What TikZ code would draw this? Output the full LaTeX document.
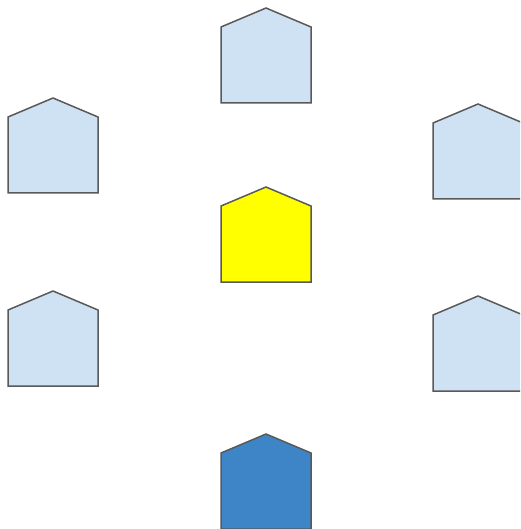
\documentclass[tikz,border=0pt]{standalone}
\usepackage{xcolor}
\usepackage{tikz}
\definecolor{edgegray}{HTML}{595959}
\definecolor{paleblue}{HTML}{CFE2F3}
\definecolor{brightyellow}{HTML}{FFFF00}
\definecolor{deepblue}{HTML}{3D85C6}

\begin{document}
\begin{tikzpicture}[
    x=1pt, y=-1pt,
    house/.pic={
      \draw[draw=edgegray, line width=1.5pt, line join=miter, fill=#1]
        (-45,95) -- (-45,19) -- (0,0) -- (45,19) -- (45,95) -- cycle;
    },
  ]
  \useasboundingbox (0,0) rectangle (520,529);
  \clip (0,0) rectangle (520,529);
  % middle column
  \pic (top) at (266,8) {house=paleblue};
  \pic (centre) at (266,187) {house=brightyellow};
  \pic (bottom) at (266,434) {house=deepblue};
  % left column
  \pic (leftup) at (53,98) {house=paleblue};
  \pic (leftlow) at (53,291) {house=paleblue};
  % right column
  \pic (rightup) at (478,104) {house=paleblue};
  \pic (rightlow) at (478,296) {house=paleblue};
\end{tikzpicture}
\end{document}
